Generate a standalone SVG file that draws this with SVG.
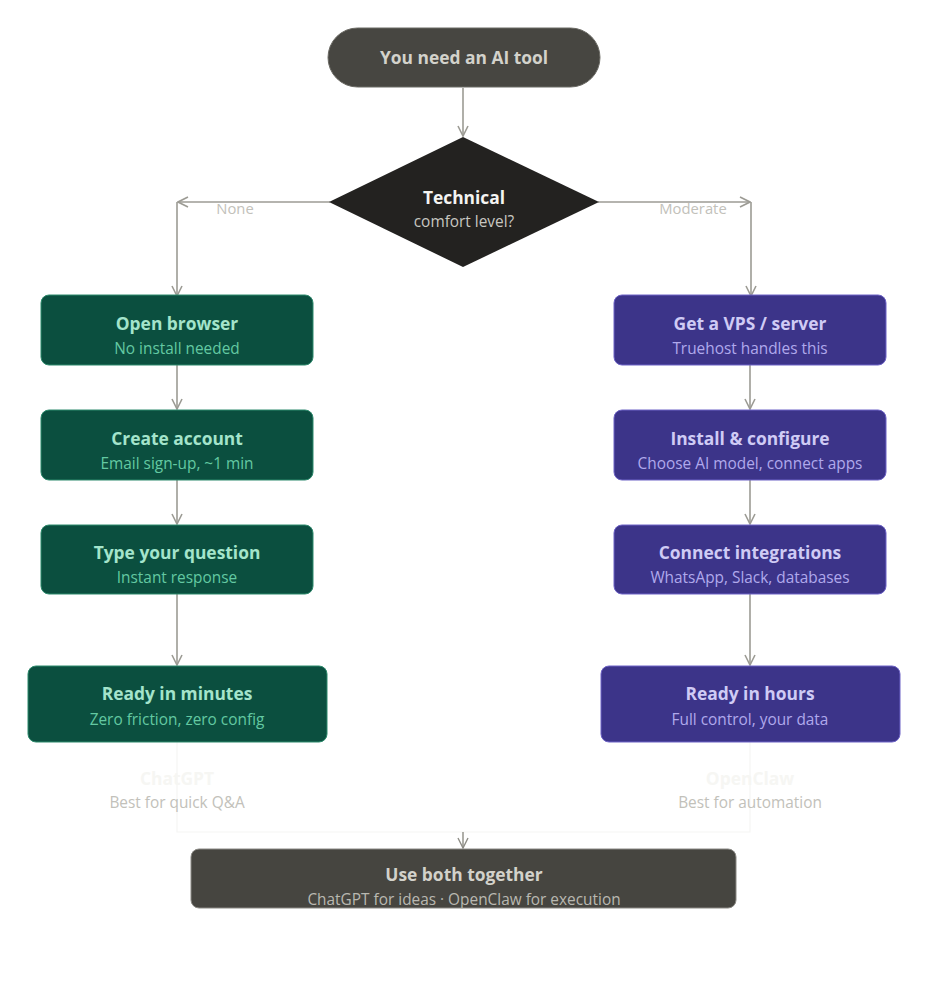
<svg xmlns="http://www.w3.org/2000/svg" width="928" height="982" viewBox="0 0 928 982">
<defs>
<style>
text{font-family:"Open Sans","Noto Sans","DejaVu Sans",sans-serif;text-anchor:middle}
.t{font-size:17.4px;font-weight:700}
.s{font-size:15.4px}
.e{fill:none;stroke:#9c9b94;stroke-width:1.6}
.ef{fill:none;stroke:#f6f6f4;stroke-width:1.2}
.lbl{font-size:14.8px;fill:#c2c1ba}
.g rect{fill:#0b4f3f;stroke:#2c8a6c;stroke-width:1}
.g .t{fill:#a4e4cb}
.g .s{fill:#63c9a2}
.p rect{fill:#3c3489;stroke:#6d62c6;stroke-width:1}
.p .t{fill:#cfcbf5}
.p .s{fill:#b0a9ec}
</style>
<marker id="a" viewBox="0 0 12 12" refX="11" refY="6" markerWidth="12" markerHeight="12" markerUnits="userSpaceOnUse" orient="auto">
<path d="M1,1 L11,6 L1,11" fill="none" stroke="#9c9b94" stroke-width="1.6"/>
</marker>
<marker id="af" viewBox="0 0 12 12" refX="11" refY="6" markerWidth="12" markerHeight="12" markerUnits="userSpaceOnUse" orient="auto">
<path d="M1,1 L11,6 L1,11" fill="none" stroke="#8e8d86" stroke-width="1.4"/>
</marker>
</defs>
<rect width="928" height="982" fill="#ffffff"/>
<g id="connectors">
<path class="e" d="M463,88 V136" marker-end="url(#a)"/>
<path class="e" d="M330,202 H178" marker-end="url(#a)"/>
<path class="e" d="M177,202 V296" marker-end="url(#a)"/>
<path class="e" d="M598,202 H750" marker-end="url(#a)"/>
<path class="e" d="M751,202 V296" marker-end="url(#a)"/>
<path class="e" d="M177,365 V409" marker-end="url(#a)"/>
<path class="e" d="M177,480 V524" marker-end="url(#a)"/>
<path class="e" d="M177,594 V665" marker-end="url(#a)"/>
<path class="e" d="M750,365 V409" marker-end="url(#a)"/>
<path class="e" d="M750,480 V524" marker-end="url(#a)"/>
<path class="e" d="M750,594 V665" marker-end="url(#a)"/>
<path class="ef" d="M177,742 V832 H463"/>
<path class="ef" d="M750,742 V832 H463"/>
<path class="e" d="M463,832 V848" marker-end="url(#af)"/>
<text class="lbl" x="235" y="214">None</text>
<text class="lbl" x="693" y="214">Moderate</text>
</g>
<g id="start">
<rect x="328" y="28" width="272" height="59" rx="29.5" fill="#474641" stroke="#6b6a64" stroke-width="1"/>
<text class="t" x="464" y="64" fill="#d3d2cb">You need an AI tool</text>
</g>
<g id="decision">
<polygon points="463,137 599,202 463,267 329,202" fill="#232220"/>
<text class="t" x="464" y="204" fill="#f4f4f2">Technical</text>
<text class="s" x="464" y="227" fill="#c8c7c0">comfort level?</text>
</g>
<g id="open" class="g">
<rect x="41" y="295" width="272" height="70" rx="8"/>
<text class="t" x="177" y="330">Open browser</text>
<text class="s" x="177" y="354">No install needed</text>
</g>
<g id="account" class="g">
<rect x="41" y="410" width="272" height="70" rx="8"/>
<text class="t" x="177" y="445">Create account</text>
<text class="s" x="177" y="469">Email sign-up, ~1 min</text>
</g>
<g id="question" class="g">
<rect x="41" y="525" width="272" height="69" rx="8"/>
<text class="t" x="177" y="559">Type your question</text>
<text class="s" x="177" y="583">Instant response</text>
</g>
<g id="minutes" class="g">
<rect x="28" y="666" width="299" height="76" rx="8"/>
<text class="t" x="177" y="700">Ready in minutes</text>
<text class="s" x="177" y="725">Zero friction, zero config</text>
</g>
<g id="vps" class="p">
<rect x="614" y="295" width="272" height="70" rx="8"/>
<text class="t" x="750" y="330">Get a VPS / server</text>
<text class="s" x="750" y="354">Truehost handles this</text>
</g>
<g id="install" class="p">
<rect x="614" y="410" width="272" height="70" rx="8"/>
<text class="t" x="750" y="445">Install &amp; configure</text>
<text class="s" x="750" y="469">Choose AI model, connect apps</text>
</g>
<g id="integrations" class="p">
<rect x="614" y="525" width="272" height="69" rx="8"/>
<text class="t" x="750" y="559">Connect integrations</text>
<text class="s" x="750" y="583">WhatsApp, Slack, databases</text>
</g>
<g id="hours" class="p">
<rect x="601" y="666" width="299" height="76" rx="8"/>
<text class="t" x="750" y="700">Ready in hours</text>
<text class="s" x="750" y="725">Full control, your data</text>
</g>
<g id="chatgpt">
<text class="t" x="177" y="785" fill="#f6f6f3">ChatGPT</text>
<text class="s" x="177" y="808" fill="#c2c1ba">Best for quick Q&amp;A</text>
</g>
<g id="openclaw">
<text class="t" x="750" y="785" fill="#f6f6f3">OpenClaw</text>
<text class="s" x="750" y="808" fill="#c2c1ba">Best for automation</text>
</g>
<g id="both">
<rect x="191" y="849" width="545" height="59" rx="8" fill="#464540" stroke="#8a8984" stroke-width="1"/>
<text class="t" x="464" y="881" fill="#d3d2cb">Use both together</text>
<text class="s" x="464" y="905" fill="#b9b8b1">ChatGPT for ideas · OpenClaw for execution</text>
</g>
</svg>
